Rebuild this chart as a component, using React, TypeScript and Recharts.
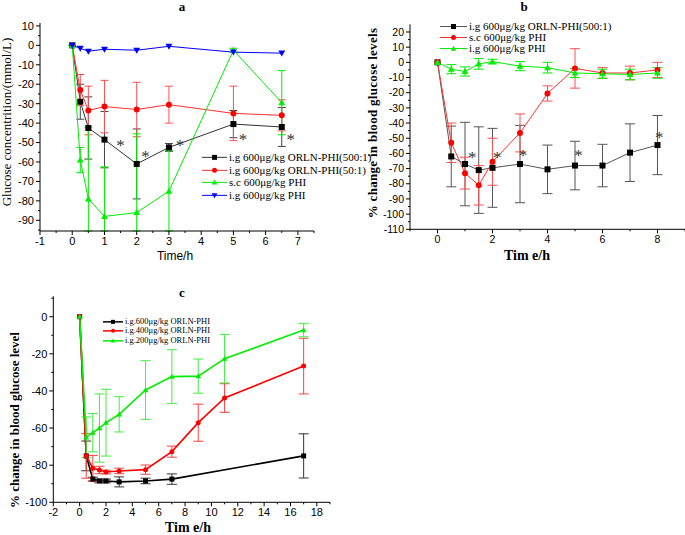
import React from "react";
import { ComposedChart, Line, Scatter, XAxis, YAxis, ErrorBar } from "recharts";

const SERIF = '"Liberation Serif", "Times New Roman", serif';
const SANS = '"Liberation Sans", Arial, sans-serif';

// ---- panel a: glucose concentration (mmol/L) ----
const timeA = [0, 0.25, 0.5, 1, 2, 3, 5, 6.5];
const a500 = [0, -29, -42.5, -48.5, -61, -52.5, -40.5, -42];
const a500Err = [0, 9, 16, 14.5, 18, 2, 7, 10];
const a50 = [0, -23, -33.5, -31.5, -33, -30.5, -35, -36];
const a50Err = [0, 8, 12.5, 13.5, 14, 9.5, 14, 8];
const aScPhi = [0, -59, -79, -88, -86, -75, -2.5, -29.5];
// [down, up]; the lower whiskers run off the bottom of the axis, so they stop at it
const aScPhiErr = [[0, 0], [6.5, 6.5], [16.5, 37], [7.5, 25.5], [9.5, 40.5], [20.5, 21], [1, 1], [16.5, 16.5]];
const aIgPhi = [0, -1.5, -3, -2, -2.5, -0.5, -3.5, -4];
const aIgPhiErr = [0, 0, 0, 0, 0, 0, 0, 0];
const starsA = [
  { x: 1.5, y: -50 },
  { x: 2.27, y: -56 },
  { x: 3.34, y: -50 },
  { x: 5.3, y: -47 },
  { x: 6.78, y: -47 },
];
const xTicksA = [-1, -0.5, 0, 0.5, 1, 1.5, 2, 2.5, 3, 3.5, 4, 4.5, 5, 5.5, 6, 6.5, 7, 7.5];
const yTicksA = [10, 5, 0, -5, -10, -15, -20, -25, -30, -35, -40, -45, -50, -55, -60, -65, -70, -75, -80, -85, -90, -95];

// ---- panel b: % change, 600 ug/kg ----
const timeB = [0, 0.5, 1, 1.5, 2, 3, 4, 5, 6, 7, 8];
const bOrln = [0, -62, -67, -71, -69.5, -67, -70.5, -68, -68, -59.5, -54.5];
const bOrlnErr = [0, 20, 27.5, 28.5, 26, 25.5, 16, 16, 14, 19, 19.5];
const bSc = [0, -53, -73, -81, -65.5, -46.5, -20.5, -4, -7, -7, -5];
const bScErr = [0, 13, 10.5, 13, 15.5, 12.5, 5, 13, 3.5, 4.5, 5];
const bIg = [0, -4.5, -6, -1, 0.5, -2.5, -3.5, -7, -7.5, -8, -7];
const bIgErr = [0, 3, 3, 3.5, 1.5, 3, 3.5, 3, 3, 3.5, 3.5];
const starsB = [
  { x: 1.26, y: -61 },
  { x: 2.17, y: -61 },
  { x: 3.11, y: -60 },
  { x: 5.13, y: -60 },
  { x: 8.06, y: -48 },
];
const xTicksB = [-1, 0, 1, 2, 3, 4, 5, 6, 7, 8, 9];
const yTicksB = [20, 15, 10, 5, 0, -5, -10, -15, -20, -25, -30, -35, -40, -45, -50, -55, -60, -65, -70, -75, -80, -85, -90, -95, -100, -105, -110];

// ---- panel c: % change, dose series ----
const timeC600 = [0, 0.5, 1, 1.5, 2, 3, 5, 7, 17];
const c600 = [0, -75, -87.5, -88.5, -88.5, -89, -88.5, -87.5, -75];
const c600Err = [0, 8, 1, 1, 1, 2.7, 1.5, 2.8, 11.9];
const timeC = [0, 0.5, 1, 1.5, 2, 3, 5, 7, 9, 11, 17];
const c400 = [0, -75, -81.7, -82.6, -83.7, -83.1, -82.4, -72.7, -57.1, -43.8, -26.6];
const c400Err = [0, 12, 7, 2, 1, 1.5, 2.5, 3, 10, 7.7, 15];
const c200 = [0, -65, -62.5, -60, -57.1, -52.6, -39.5, -32.3, -32, -22.6, -7.2];
const c200Err = [0, 11, 10.3, 18.4, 18, 9.5, 15.8, 14.5, 9.2, 13.1, 3.6];
const xTicksC = [-2, -1, 0, 1, 2, 3, 4, 5, 6, 7, 8, 9, 10, 11, 12, 13, 14, 15, 16, 17, 18, 19];
const yTicksC = [10, 0, -10, -20, -30, -40, -50, -60, -70, -80, -90, -100];

const zip = (xs: number[], ys: number[], es: (number | number[])[]) =>
  xs.map((x, i) => ({ x, y: ys[i], e: es[i] }));

type Shape = "square" | "circle" | "up" | "down";

const Marker = ({ cx, cy, shape, color, size }: { cx: number; cy: number; shape: Shape; color: string; size: number }) => {
  const h = size / 2;
  if (shape === "square") return <rect x={cx - h} y={cy - h} width={size} height={size} fill={color} />;
  if (shape === "circle") return <circle cx={cx} cy={cy} r={h} fill={color} />;
  if (shape === "up")
    return <polygon points={`${cx},${cy - h * 1.15} ${cx - h * 1.15},${cy + h * 0.85} ${cx + h * 1.15},${cy + h * 0.85}`} fill={color} />;
  return <polygon points={`${cx},${cy + h * 1.15} ${cx - h * 1.15},${cy - h * 0.85} ${cx + h * 1.15},${cy - h * 0.85}`} fill={color} />;
};

const dotFn = (shape: Shape, color: string, size: number) => (p: any) =>
  <Marker key={`dot-${p.index}`} cx={p.cx} cy={p.cy} shape={shape} color={color} size={size} />;

const isMajor = (v: number, step: number) => Math.abs(v / step - Math.round(v / step)) < 1e-6;

const leftTick = (step: number, fs: number) => (p: any) => {
  const v = p.payload.value;
  const major = isMajor(v, step);
  return (
    <g>
      <line x1={p.x} y1={p.y} x2={p.x - (major ? 4 : 2)} y2={p.y} stroke="#000" />
      {major && (
        <text x={p.x - 6} y={p.y} dy="0.35em" textAnchor="end" fontSize={fs} fontFamily={SANS} fill="#000">
          {v}
        </text>
      )}
    </g>
  );
};

const bottomTick = (step: number, fs: number) => (p: any) => {
  const v = p.payload.value;
  const major = isMajor(v, step);
  return (
    <g>
      <line x1={p.x} y1={p.y} x2={p.x} y2={p.y + (major ? 4 : 2)} stroke="#000" />
      {major && (
        <text x={p.x} y={p.y + 6} dy="0.71em" textAnchor="middle" fontSize={fs} fontFamily={SANS} fill="#000">
          {v}
        </text>
      )}
    </g>
  );
};

const starShape = (p: any) => (
  <text x={p.cx} y={p.cy} dy={8} textAnchor="middle" fontSize={17} fontFamily={SERIF} fill="#333">
    *
  </text>
);

type LegendItem = { label: string; color: string; line: string; shape: Shape };

const LegendBox = ({ items, left, top, rowH, fontSize, lineW, size, strokeW }: {
  items: LegendItem[]; left: number; top: number; rowH: number; fontSize: number; lineW: number; size: number; strokeW: number;
}) => (
  <div style={{ position: "absolute", left, top, fontFamily: SERIF, fontSize, color: "#000" }}>
    {items.map((it) => (
      <div key={it.label} style={{ display: "flex", alignItems: "center", height: rowH, whiteSpace: "nowrap" }}>
        <svg width={lineW} height={rowH} style={{ marginRight: 2, flex: "none" }}>
          <line x1={0} x2={lineW} y1={rowH / 2} y2={rowH / 2} stroke={it.line} strokeWidth={strokeW} />
          <Marker cx={lineW / 2} cy={rowH / 2} shape={it.shape} color={it.color} size={size} />
        </svg>
        <span style={{ lineHeight: `${rowH}px` }}>{it.label}</span>
      </div>
    ))}
  </div>
);

const Txt = ({ x, y, children, style, rotate }: { x: number; y: number; children: React.ReactNode; style?: React.CSSProperties; rotate?: boolean }) => (
  <div
    style={{
      position: "absolute",
      left: x,
      top: y,
      whiteSpace: "nowrap",
      transform: `translate(-50%, -50%)${rotate ? " rotate(-90deg)" : ""}`,
      color: "#000",
      ...style,
    }}
  >
    {children}
  </div>
);

const axisLine = { stroke: "#000", strokeWidth: 1 };

const PanelA = () => (
  <div style={{ position: "absolute", left: 0, top: 0 }}>
    <ComposedChart width={340} height={270} margin={{ top: 23, right: 26, bottom: 0, left: 0 }}>
      <XAxis type="number" dataKey="x" domain={[-1, 7.5]} ticks={xTicksA} interval={0} allowDataOverflow
        height={39} tickSize={0} tickMargin={0} tickLine={false} axisLine={axisLine} tick={bottomTick(1, 11)} />
      <YAxis type="number" domain={[-95.5, 11.5]} ticks={yTicksA} interval={0} allowDataOverflow
        width={40} tickSize={0} tickMargin={0} tickLine={false} axisLine={axisLine} tick={leftTick(10, 11)} />
      <Line data={zip(timeA, a500, a500Err)} dataKey="y" stroke="#333" strokeWidth={1} isAnimationActive={false}
        dot={dotFn("square", "#000", 6)} activeDot={false}>
        <ErrorBar dataKey="e" width={4} stroke="#444" strokeWidth={1} direction="y" />
      </Line>
      <Line data={zip(timeA, a50, a50Err)} dataKey="y" stroke="#ff3030" strokeWidth={1} isAnimationActive={false}
        dot={dotFn("circle", "#ff0000", 6)} activeDot={false}>
        <ErrorBar dataKey="e" width={4} stroke="#ff5050" strokeWidth={1} direction="y" />
      </Line>
      <Line data={zip(timeA, aScPhi, aScPhiErr)} dataKey="y" stroke="#00ee00" strokeWidth={1} isAnimationActive={false}
        dot={dotFn("up", "#00ee00", 6)} activeDot={false}>
        <ErrorBar dataKey="e" width={4} stroke="#00ee00" strokeWidth={1} direction="y" />
      </Line>
      <Line data={zip(timeA, aIgPhi, aIgPhiErr)} dataKey="y" stroke="#0000ff" strokeWidth={1} isAnimationActive={false}
        dot={dotFn("down", "#0000ff", 6)} activeDot={false} />
      <Scatter data={starsA} dataKey="y" isAnimationActive={false} shape={starShape} />
    </ComposedChart>
  </div>
);

const PanelB = () => (
  <div style={{ position: "absolute", left: 340, top: 0 }}>
    <ComposedChart width={345} height={270} margin={{ top: 24.4, right: 0, bottom: 0, left: 0 }}>
      <XAxis type="number" dataKey="x" domain={[-1, 9]} ticks={xTicksB} interval={0} allowDataOverflow
        height={40.7} tickSize={0} tickMargin={0} tickLine={false} axisLine={axisLine} tick={bottomTick(2, 10.5)} />
      <YAxis type="number" domain={[-110, 25]} ticks={yTicksB} interval={0} allowDataOverflow
        width={70} tickSize={0} tickMargin={0} tickLine={false} axisLine={axisLine} tick={leftTick(10, 10.5)} />
      <Line data={zip(timeB, bOrln, bOrlnErr)} dataKey="y" stroke="#555" strokeWidth={1} isAnimationActive={false}
        dot={dotFn("square", "#000", 6)} activeDot={false}>
        <ErrorBar dataKey="e" width={5} stroke="#555" strokeWidth={1} direction="y" />
      </Line>
      <Line data={zip(timeB, bSc, bScErr)} dataKey="y" stroke="#ff3030" strokeWidth={1} isAnimationActive={false}
        dot={dotFn("circle", "#ff0000", 6)} activeDot={false}>
        <ErrorBar dataKey="e" width={5} stroke="#ff5050" strokeWidth={1} direction="y" />
      </Line>
      <Line data={zip(timeB, bIg, bIgErr)} dataKey="y" stroke="#00ee00" strokeWidth={1} isAnimationActive={false}
        dot={dotFn("up", "#00ee00", 6)} activeDot={false}>
        <ErrorBar dataKey="e" width={5} stroke="#00ee00" strokeWidth={1} direction="y" />
      </Line>
      <Scatter data={starsB} dataKey="y" isAnimationActive={false} shape={starShape} />
    </ComposedChart>
  </div>
);

const PanelC = () => (
  <div style={{ position: "absolute", left: 0, top: 270 }}>
    <ComposedChart width={340} height={265} margin={{ top: 26.3, right: 10, bottom: 0, left: 0 }}>
      <XAxis type="number" dataKey="x" domain={[-2, 19]} ticks={xTicksC} interval={0} allowDataOverflow
        height={32.7} tickSize={0} tickMargin={0} tickLine={false} axisLine={axisLine} tick={bottomTick(2, 11)} />
      <YAxis type="number" domain={[-100, 11]} ticks={yTicksC} interval={0} allowDataOverflow
        width={53.3} tickSize={0} tickMargin={0} tickLine={false} axisLine={axisLine} tick={leftTick(20, 11)} />
      <Line data={zip(timeC600, c600, c600Err)} dataKey="y" stroke="#000" strokeWidth={1.6} isAnimationActive={false}
        dot={dotFn("square", "#000", 5)} activeDot={false}>
        <ErrorBar dataKey="e" width={5} stroke="#333" strokeWidth={1} direction="y" />
      </Line>
      <Line data={zip(timeC, c400, c400Err)} dataKey="y" stroke="#ff0000" strokeWidth={1.6} isAnimationActive={false}
        dot={dotFn("circle", "#ff0000", 5)} activeDot={false}>
        <ErrorBar dataKey="e" width={5} stroke="#ff4040" strokeWidth={1} direction="y" />
      </Line>
      <Line data={zip(timeC, c200, c200Err)} dataKey="y" stroke="#00ee00" strokeWidth={1.6} isAnimationActive={false}
        dot={dotFn("up", "#00ee00", 5)} activeDot={false}>
        <ErrorBar dataKey="e" width={5} stroke="#40ee40" strokeWidth={1} direction="y" />
      </Line>
    </ComposedChart>
  </div>
);

const legendA: LegendItem[] = [
  { label: "i.g 600μg/kg ORLN-PHI(500:1)", color: "#000", line: "#333", shape: "square" },
  { label: "i.g 600μg/kg ORLN-PHI(50:1)", color: "#ff0000", line: "#ff3030", shape: "circle" },
  { label: "s.c 600μg/kg PHI", color: "#00ee00", line: "#00ee00", shape: "up" },
  { label: "i.g 600μg/kg PHI", color: "#0000ff", line: "#0000ff", shape: "down" },
];
const legendB: LegendItem[] = [
  { label: "i.g 600μg/kg ORLN-PHI(500:1)", color: "#000", line: "#555", shape: "square" },
  { label: "s.c 600μg/kg PHI", color: "#ff0000", line: "#ff3030", shape: "circle" },
  { label: "i.g 600μg/kg PHI", color: "#00ee00", line: "#00ee00", shape: "up" },
];
const legendC: LegendItem[] = [
  { label: "i.g.600μg/kg ORLN-PHI", color: "#000", line: "#000", shape: "square" },
  { label: "i.g.400μg/kg ORLN-PHI", color: "#ff0000", line: "#ff0000", shape: "circle" },
  { label: "i.g.200μg/kg ORLN-PHI", color: "#00ee00", line: "#00ee00", shape: "up" },
];

const bold: React.CSSProperties = { fontFamily: SERIF, fontWeight: "bold" };

export default function App() {
  return (
    <div style={{ position: "absolute", left: 0, top: 0, width: 685, height: 535, background: "#fff", overflow: "hidden" }}>
      <PanelA />
      <PanelB />
      <PanelC />
      <LegendBox items={legendA} left={202} top={151} rowH={12.7} fontSize={11} lineW={25} size={5} strokeW={1} />
      <LegendBox items={legendB} left={440} top={21} rowH={11} fontSize={11} lineW={27} size={5} strokeW={1} />
      <LegendBox items={legendC} left={103} top={316.5} rowH={9.7} fontSize={8.5} lineW={20} size={4} strokeW={1.5} />

      <Txt x={182} y={7} style={{ ...bold, fontSize: 13 }}>a</Txt>
      <Txt x={524} y={7} style={{ ...bold, fontSize: 13 }}>b</Txt>
      <Txt x={182} y={293} style={{ ...bold, fontSize: 13 }}>c</Txt>

      <Txt x={7} y={122} rotate style={{ fontFamily: SERIF, fontSize: 13 }}>Glucose concentrition/(mmol/L)</Txt>
      <Txt x={175} y={256} style={{ fontFamily: SANS, fontSize: 12 }}>Time/h</Txt>

      <Txt x={373} y={123} rotate style={{ ...bold, fontSize: 13, letterSpacing: 0.3 }}>% change in blood glucose levels</Txt>
      <Txt x={527} y={256} style={{ ...bold, fontSize: 14 }}>Tim e/h</Txt>

      <Txt x={15} y={420} rotate style={{ ...bold, fontSize: 13 }}>% change in blood glucose level</Txt>
      <Txt x={188} y={528} style={{ ...bold, fontSize: 14 }}>Tim e/h</Txt>
    </div>
  );
}
